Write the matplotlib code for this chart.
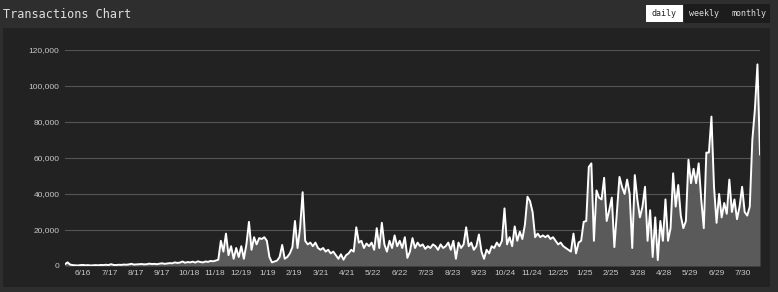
import matplotlib
matplotlib.use('Agg')
import matplotlib.pyplot as plt
from matplotlib.patches import Rectangle
from matplotlib.ticker import FuncFormatter
import pandas as pd

# daily transactions, one reading every 3 days, in thousands
tx_thousands = [
    1.0, 2.0, 0.8, 0.5, 0.4, 0.3, 0.5, 0.6, 0.4, 0.5,
    0.3, 0.4, 0.5, 0.4, 0.6, 0.5, 0.7, 0.5, 1.0, 0.6,
    0.5, 0.7, 0.6, 0.8, 0.7, 0.9, 1.2, 0.8, 0.9, 1.0,
    1.1, 0.9, 1.0, 1.3, 1.1, 1.2, 1.0, 1.3, 1.5, 1.2,
    1.4, 1.6, 1.5, 2.0, 1.7, 1.9, 2.5, 1.8, 2.2, 2.0,
    2.4, 1.9, 2.6, 2.2, 2.0, 2.5, 2.3, 2.8, 2.6,
    3, 3.5, 14, 8, 18, 6, 11, 4, 10, 5,
    11, 4, 12, 24.5, 9, 16, 12, 15.5, 15, 16,
    14, 5, 2, 2.5, 3, 5, 11.7, 4, 5, 7,
    10.5, 25, 10, 21, 41, 14, 12, 13, 11, 13,
    10, 9, 10, 8, 9, 7, 8, 6, 4, 6.5,
    3.5, 6, 7, 9, 8, 21.5, 13, 14, 10, 12.5,
    11, 13, 9, 21, 10, 24, 12, 8, 14, 10,
    17, 11, 14, 10, 16, 4.5, 8, 15.5, 10, 13,
    11, 12, 9.5, 11, 10, 12, 11, 9, 12, 10,
    11, 13, 9, 14, 4, 13, 10, 12, 21.5, 11,
    13, 9, 11, 17.5, 8, 4, 9, 7, 11, 10,
    13, 11, 14, 32, 12, 16, 11, 22, 14, 19,
    15, 23, 38.5, 36, 30, 16, 18, 16, 17, 16,
    17, 15, 16, 14, 12, 13, 11, 10, 9, 8,
    18, 7, 13, 14, 24.5, 25, 55, 57, 14, 42,
    38, 37, 49, 25, 31, 38, 10.5, 30, 49.5, 44,
    40, 48, 40, 10, 50.5, 37, 27, 33, 44, 14,
    31, 5, 27, 3.3, 25, 14, 37, 14, 21, 51.5,
    33, 45, 28, 21, 25, 59, 46, 54, 46, 57,
    37, 21, 63, 63, 83, 44, 24, 40, 27, 35,
    29, 48, 30, 37, 26, 33, 44, 30, 28, 33,
    70, 87, 112, 62,
]
start_date = '2015-05-26'

tick_labels = ['6/16', '7/17', '8/17', '9/17', '10/18', '11/18', '12/19',
               '1/19', '2/19', '3/21', '4/21', '5/22', '6/22', '7/23',
               '8/23', '9/23', '10/24', '11/24', '12/25', '1/25', '2/25',
               '3/28', '4/28', '5/29', '6/29', '7/30']
y_ticks = [0, 20000, 40000, 60000, 80000, 100000, 120000]

buttons = ['daily', 'weekly', 'monthly']

dates = pd.date_range(start_date, periods=len(tx_thousands), freq='3D')
values = [v * 1000 for v in tx_thousands]
tick_dates = pd.date_range('2015-06-16', periods=len(tick_labels), freq='31D')

W, H = 778, 292
fig = plt.figure(figsize=(W / 100, H / 100), dpi=100)
fig.patch.set_facecolor('#2e2e2e')

# inner dark panel (behind the axes)
fig.patches.append(Rectangle((3 / W, 5 / H), 767 / W, 259 / H,
                             transform=fig.transFigure, facecolor='#222222',
                             edgecolor='none', zorder=-5))

ax = fig.add_axes([65 / W, 26 / H, 695 / W, 216 / H])
ax.set_facecolor('none')

ax.fill_between(dates, values, 0, color='#5a5a5a', linewidth=0, zorder=2)
ax.plot(dates, values, color='white', linewidth=1.4, zorder=3,
        solid_joinstyle='round')

ax.set_xlim(dates[0], dates[-1])
ax.set_ylim(0, 120000)

for s in ['top', 'bottom', 'left', 'right']:
    ax.spines[s].set_visible(False)

ax.set_yticks(y_ticks)
ax.yaxis.set_major_formatter(FuncFormatter(lambda v, p: f'{int(v):,}'))
ax.tick_params(axis='y', length=0, pad=4, labelsize=6, labelcolor='#c8c8c8')
ax.grid(axis='y', color='#555555', linewidth=0.8, zorder=1)
ax.set_axisbelow(True)

ax.set_xticks(tick_dates)
ax.set_xticklabels(tick_labels)
ax.tick_params(axis='x', direction='in', length=1.5, width=1.2,
               color='#777777', pad=3, labelsize=6, labelcolor='#c8c8c8')

for lbl in ax.get_xticklabels() + ax.get_yticklabels():
    lbl.set_family('Liberation Sans')

# header
fig.text(3 / W, 1 - 14 / H, 'Transactions Chart', family='DejaVu Sans Mono',
         fontsize=8.5, color='#dddddd', va='center', ha='left')

# period buttons
fig.patches.append(Rectangle((684 / W, 1 - 23 / H), 86 / W, 19 / H,
                             transform=fig.transFigure, facecolor='#1c1c1c',
                             edgecolor='none', zorder=1))
fig.patches.append(Rectangle((646 / W, 1 - 22 / H), 37 / W, 17 / H,
                             transform=fig.transFigure, facecolor='white',
                             edgecolor='none', zorder=2))
btn_x = [664, 704, 749]
for name, bx in zip(buttons, btn_x):
    fig.text(bx / W, 1 - 13.5 / H, name, family='DejaVu Sans Mono',
             fontsize=6, ha='center', va='center', zorder=3,
             color='#222222' if name == 'daily' else '#dddddd')

fig.savefig('out.png', dpi=100, facecolor=fig.get_facecolor())
